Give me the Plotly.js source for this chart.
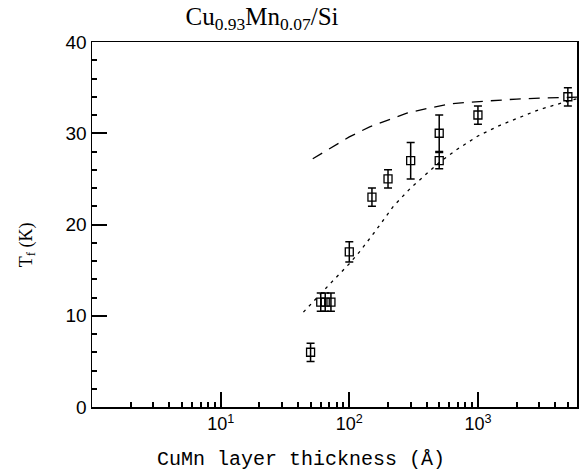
<!DOCTYPE html>
<html>
<head>
<meta charset="utf-8">
<script src="https://cdn.plot.ly/plotly-3.0.1.min.js"></script>
<style>html,body{margin:0;padding:0;background:#fff;}#chart{width:581px;height:473px;}</style>
</head>
<body>
<div id="chart"></div>
<script>
// Measured data: CuMn layer thickness (Å) vs freezing temperature T_f (K)
const thickness = [50, 60, 65, 72, 100, 150, 200, 300, 500, 500, 1000, 5000];
const tf = [6, 11.5, 11.5, 11.5, 17, 23, 25, 27, 30, 27, 32, 34];
const tfErr = [1, 1, 1, 1, 1.1, 1, 1, 2, 2, 0.9, 1, 1];

// Dashed theory curve
const dashX = [52, 55, 73, 100, 144, 200, 280, 430, 600, 850, 1300, 2000, 3150, 4800, 5900];
const dashY = [27.2, 27.4, 28.4, 29.6, 30.7, 31.45, 32.2, 32.8, 33.2, 33.4, 33.6, 33.75, 33.85, 33.9, 33.95];

// Dotted theory curve
const dotX = [44, 55, 72, 100, 120, 160, 220, 300, 400, 500, 700, 1000, 1500, 2000, 3000, 4700, 5900];
const dotY = [10.4, 11.9, 13.6, 15.7, 17.0, 19.3, 22.0, 24.0, 25.6, 26.8, 28.3, 29.7, 30.9, 31.6, 32.6, 33.4, 33.8];

// Tick labels / positions
const xTickVals = [10, 100, 1000];
const xTickText = ['10<sup>1</sup>', '10<sup>2</sup>', '10<sup>3</sup>'];
const xMinorVals = [2, 3, 4, 5, 6, 7, 8, 9, 20, 30, 40, 50, 60, 70, 80, 90,
                    200, 300, 400, 500, 600, 700, 800, 900, 2000, 3000, 4000, 5000];
const yTickVals = [0, 10, 20, 30, 40];
const yMinorVals = [2, 4, 6, 8, 12, 14, 16, 18, 22, 24, 26, 28, 32, 34, 36, 38];

const chartTitle = 'Cu<sub>0.93</sub>Mn<sub>0.07</sub>/Si';
const xTitle = 'CuMn layer thickness (Å)';
const yTitle = 'T<sub>f</sub> (K)';

const traces = [
  {x: dashX, y: dashY, type: 'scatter', mode: 'lines',
   line: {color: '#000', width: 1.3, dash: '11px,8px'}, hoverinfo: 'skip', showlegend: false},
  {x: dotX, y: dotY, type: 'scatter', mode: 'lines',
   line: {color: '#000', width: 1.3, dash: '3px,5px'}, hoverinfo: 'skip', showlegend: false},
  {x: thickness, y: tf, type: 'scatter', mode: 'markers',
   marker: {symbol: 'square-open', size: 8, color: '#000', line: {width: 1.3, color: '#000'}},
   error_y: {type: 'data', array: tfErr, visible: true, color: '#000', thickness: 1.5, width: 4},
   showlegend: false},
  // carrier for the minor-tick axes
  {x: [10], y: [20], xaxis: 'x2', yaxis: 'y2', type: 'scatter', mode: 'markers',
   marker: {opacity: 0}, hoverinfo: 'skip', showlegend: false}
];

const layout = {
  width: 581, height: 473,
  margin: {l: 92, r: 4, t: 42, b: 66},
  paper_bgcolor: '#fff', plot_bgcolor: '#fff',
  showlegend: false,
  title: {
    text: chartTitle,
    font: {family: 'Liberation Serif, DejaVu Serif, serif', size: 25, color: '#000'},
    x: 0.451, xref: 'container', xanchor: 'center',
    y: 0.966, yref: 'container', yanchor: 'middle'
  },
  xaxis: {
    type: 'log', range: [0, 3.77],
    showgrid: false, zeroline: false,
    showline: true, linecolor: '#000', linewidth: 1.5, mirror: true,
    ticks: 'inside', ticklen: 15, tickwidth: 2, tickcolor: '#000',
    tickmode: 'array', tickvals: xTickVals, ticktext: xTickText,
    tickfont: {family: 'Liberation Sans, Arial, sans-serif', size: 18, color: '#000'}
  },
  xaxis2: {
    type: 'log', range: [0, 3.77], overlaying: 'x', anchor: 'y', side: 'bottom',
    showgrid: false, zeroline: false, showline: false,
    ticks: 'inside', ticklen: 5, tickwidth: 2, tickcolor: '#000',
    tickmode: 'array', tickvals: xMinorVals, showticklabels: false
  },
  yaxis: {
    range: [0, 40],
    showgrid: false, zeroline: false,
    showline: true, linecolor: '#000', linewidth: 1.5, mirror: true,
    ticks: 'inside', ticklen: 15, tickwidth: 2, tickcolor: '#000',
    tickmode: 'array', tickvals: yTickVals,
    tickfont: {family: 'Liberation Sans, Arial, sans-serif', size: 19, color: '#000'}
  },
  yaxis2: {
    range: [0, 40], overlaying: 'y', anchor: 'x', side: 'left',
    showgrid: false, zeroline: false, showline: false,
    ticks: 'inside', ticklen: 5, tickwidth: 2, tickcolor: '#000',
    tickmode: 'array', tickvals: yMinorVals, showticklabels: false
  },
  annotations: [
    {text: xTitle, xref: 'paper', yref: 'paper', x: 0.431, y: -0.145,
     xanchor: 'center', yanchor: 'middle', showarrow: false,
     font: {family: 'Liberation Mono, DejaVu Sans Mono, monospace', size: 20, color: '#000'}},
    {text: yTitle, xref: 'paper', yref: 'paper', x: -0.134, y: 0.443, textangle: -90,
     xanchor: 'center', yanchor: 'middle', showarrow: false,
     font: {family: 'Liberation Serif, DejaVu Serif, serif', size: 18, color: '#000'}}
  ]
};

Plotly.newPlot('chart', traces, layout, {displayModeBar: false, staticPlot: true});
</script>
</body>
</html>
